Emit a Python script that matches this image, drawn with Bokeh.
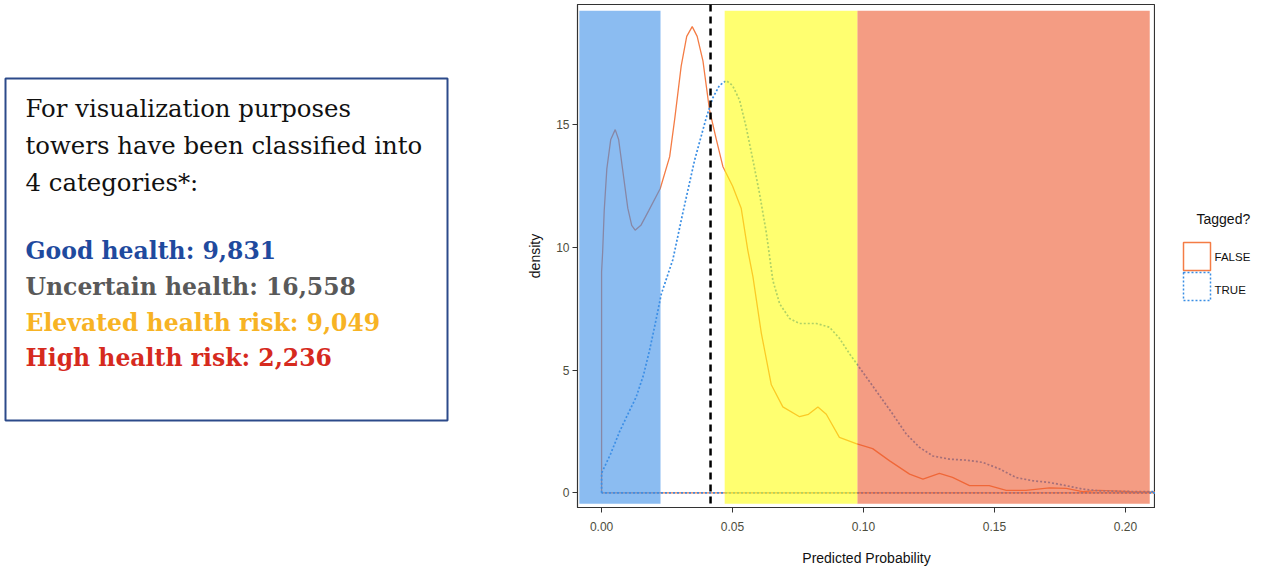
from bokeh.plotting import figure
from bokeh.layouts import row
from bokeh.models import Range1d, FixedTicker, NumeralTickFormatter, Span
from bokeh.core.properties import value
from bokeh.embed import file_html
from bokeh.resources import INLINE

# --- density curves (predicted probability vs density) ---
false_x = [0.0, 0.0004, 0.001, 0.002, 0.0035, 0.0052, 0.0065, 0.008, 0.010, 0.0115, 0.0128, 0.015,
           0.018, 0.0224, 0.026, 0.028, 0.0304, 0.0325, 0.0346, 0.0365, 0.0387, 0.0412, 0.0438,
           0.0463, 0.050, 0.0533, 0.0558, 0.0578, 0.061, 0.0648, 0.0692, 0.0756, 0.079, 0.0826,
           0.0858, 0.0908, 0.0972, 0.1035, 0.110, 0.1176, 0.1227, 0.129, 0.134, 0.1405, 0.148,
           0.1545, 0.162, 0.171, 0.1774, 0.1836, 0.19, 0.202, 0.215]
false_y = [9.0, 9.8, 11.5, 13.2, 14.4, 14.8, 14.4, 13.2, 11.6, 10.9, 10.7, 10.9,
           11.5, 12.4, 13.7, 15.3, 17.4, 18.6, 19.0, 18.6, 17.6, 15.6, 14.4,
           13.3, 12.5, 11.6, 9.9, 8.8, 6.5, 4.4, 3.5, 3.1, 3.2, 3.5,
           3.2, 2.26, 2.0, 1.8, 1.3, 0.76, 0.56, 0.79, 0.63, 0.29, 0.29,
           0.1, 0.1, 0.2, 0.18, 0.05, 0.1, 0.05, 0.03]

true_x = [0.0, 0.0035, 0.0069, 0.010, 0.0132, 0.016, 0.0183, 0.0205, 0.0228, 0.0272, 0.031,
          0.0355, 0.040, 0.0425, 0.045, 0.0476, 0.050, 0.0527, 0.0552, 0.0578, 0.0603, 0.0629,
          0.0654, 0.068, 0.0718, 0.0756, 0.082, 0.087, 0.0908, 0.0947, 0.0985, 0.1048, 0.1112,
          0.1163, 0.1214, 0.1265, 0.1328, 0.1392, 0.1455, 0.152, 0.1583, 0.1646, 0.171, 0.1774,
          0.1837, 0.19, 0.203, 0.215]
true_y = [0.8, 1.6, 2.5, 3.2, 3.9, 4.8, 5.8, 6.9, 8.1, 9.5, 11.4,
          13.55, 15.3, 16.1, 16.6, 16.8, 16.6, 16.0, 14.9, 13.55, 12.2, 10.6,
          8.65, 7.7, 7.1, 6.9, 6.9, 6.75, 6.3, 5.66, 5.1, 4.16, 3.2,
          2.4, 1.85, 1.5, 1.37, 1.33, 1.24, 0.97, 0.62, 0.49, 0.42, 0.29,
          0.15, 0.08, 0.05, 0.04]

# --- health category bands and cut-off ---
band_left = [-0.0085, 0.047, 0.0977]
band_right = [0.0225, 0.0977, 0.2093]
band_colors = ["#3d8fe8", "#ffff10", "#ec5a30"]
band_bottom = -0.45
band_top = 19.65
cutoff = 0.0416

x_ticks = [0.0, 0.05, 0.10, 0.15, 0.20]
y_ticks = [0, 5, 10, 15]

summary_lines = ["For visualization purposes", "towers have been classified into", "4 categories*:"]
category_lines = ["Good health: 9,831", "Uncertain health: 16,558",
                  "Elevated health risk: 9,049", "High health risk: 2,236"]
category_colors = ["#1f4a9e", "#595959", "#f7b324", "#d62a1e"]

legend_title = "Tagged?"
legend_labels = ["FALSE", "TRUE"]

FALSE_COLOR = "#f47c45"
TRUE_COLOR = "#3a8ee4"

TOP, FRAME_H, BOTTOM = 4, 503, 69


def panel(width):
    # a plain drawing area using pixel-style coordinates (y grows downwards)
    f = figure(frame_width=width, frame_height=FRAME_H,
               x_range=Range1d(0, width), y_range=Range1d(TOP + FRAME_H, TOP),
               toolbar_location=None, output_backend="svg",
               min_border_left=0, min_border_right=0, min_border_top=TOP, min_border_bottom=BOTTOM)
    f.axis.visible = False
    f.grid.visible = False
    f.outline_line_color = None
    return f


# ---------------- text panel ----------------
tp = panel(520)
tp.quad(left=[5], right=[447], top=[78], bottom=[420], fill_color=None,
        line_color="#2c4a8a", line_width=2)
tp.text(x=[25] * 3, y=[108, 145, 182], text=summary_lines, text_font=value("DejaVu Serif"),
        text_font_size="24.4px", text_color="#111111", text_baseline="middle", text_align="left")
tp.text(x=[25] * 4, y=[250, 286, 322, 357], text=category_lines, text_font=value("DejaVu Serif"),
        text_font_size="23.5px", text_font_style="bold", text_color=category_colors,
        text_baseline="middle", text_align="left")

# ---------------- density chart ----------------
p = figure(frame_width=578, frame_height=FRAME_H,
           x_range=Range1d(-0.0092, 0.2115), y_range=Range1d(-0.6, 19.9),
           toolbar_location=None, output_backend="svg",
           min_border_left=57, min_border_right=0, min_border_top=TOP, min_border_bottom=BOTTOM)
p.grid.visible = False
p.outline_line_color = "#333333"
p.outline_line_width = 1.2


def outline(xs, ys):
    # closed density outline including the zero baseline
    return [xs[0]] + xs + [xs[-1], xs[0]], [0.0] + ys + [0.0, 0.0]


fx, fy = outline(false_x, false_y)
tx, ty = outline(true_x, true_y)
p.line(fx, fy, line_color=FALSE_COLOR, line_width=1.3)
p.line(tx, ty, line_color=TRUE_COLOR, line_width=1.7, line_dash="2 2")

p.quad(left=band_left, right=band_right, bottom=band_bottom, top=band_top,
       fill_color=band_colors, fill_alpha=0.6, line_color=None)

p.add_layout(Span(location=cutoff, dimension="height", line_color="black",
                  line_width=2.5, line_dash="7 5"))

p.xaxis.ticker = FixedTicker(ticks=x_ticks)
p.xaxis.formatter = NumeralTickFormatter(format="0.00")
p.yaxis.ticker = FixedTicker(ticks=y_ticks)
p.xaxis.axis_label = "Predicted Probability"
p.yaxis.axis_label = "density"
for ax in (p.xaxis, p.yaxis):
    ax.axis_label_text_font = "Liberation Sans"
    ax.axis_label_text_font_size = "14px"
    ax.axis_label_text_font_style = "normal"
    ax.axis_label_text_color = "#111111"
    ax.major_label_text_font = "Liberation Sans"
    ax.major_label_text_font_size = "12px"
    ax.major_label_text_color = "#4d4d3d"
    ax.major_tick_line_color = "#333333"
    ax.major_tick_out = 5
    ax.major_tick_in = 0
    ax.minor_tick_line_color = None
    ax.axis_line_color = "#333333"
p.xaxis.major_label_standoff = 9
p.xaxis.axis_label_standoff = 16
p.yaxis.major_label_standoff = 3
p.yaxis.axis_label_standoff = 10

# ---------------- legend panel ----------------
lg = panel(108)
lg.text(x=[41], y=[218], text=[legend_title], text_font=value("Liberation Sans"),
        text_font_size="14px", text_color="#111111", text_baseline="middle", text_align="left")
lg.quad(left=[28], right=[55], top=[242], bottom=[270], fill_color=None,
        line_color=FALSE_COLOR, line_width=1.5)
lg.quad(left=[28], right=[55], top=[272], bottom=[300], fill_color=None,
        line_color=TRUE_COLOR, line_width=1.5, line_dash="2 2")
lg.text(x=[59, 59], y=[256, 289], text=legend_labels, text_font=value("Liberation Sans"),
        text_font_size="11.5px", text_color="#111111", text_baseline="middle", text_align="left")

layout = row(tp, p, lg, spacing=0)
open("out.html", "w").write(file_html(layout, INLINE))
